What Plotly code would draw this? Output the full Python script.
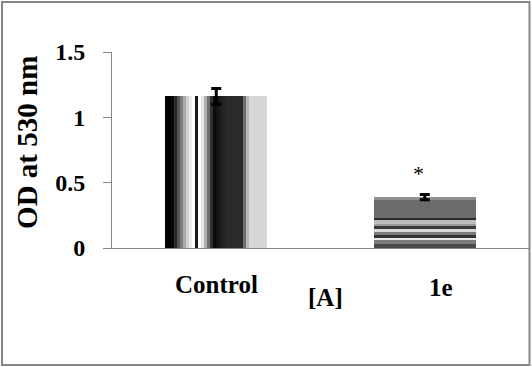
import plotly.graph_objects as go

# ---- data ----
categories = ["Control", "1e"]
values = [1.16, 0.39]
errors = [0.06, 0.02]
significance = ["", "*"]
y_tick_vals = [0, 0.5, 1, 1.5]
y_tick_text = ["0", "0.5", "1", "1.5"]
y_title = "OD at 530 nm"
x_title = "[A]"

# ---- style ----
FONT = "Liberation Serif, Times New Roman, Times, serif"
GRAY = "#868686"
BAR_W = 0.49

# vertical stripe texture of the first bar (left -> right)
stripe_colors = [
    "#000000", "#000000", "#080808",
    "#2a2a2a", "#555555", "#808080", "#aaaaaa", "#cfcfcf", "#ececec",
    "#ffffff", "#1a1a1a", "#ffffff",
    "#e6e6e6", "#b0b0b0", "#707070", "#303030",
    "#0c0c0c", "#141414", "#1c1c1c", "#242424", "#2a2a2a",
    "#2a2a2a", "#2a2a2a", "#2a2a2a", "#2a2a2a", "#2a2a2a",
    "#707070", "#b8b8b8",
    "#d6d6d6", "#d6d6d6", "#d6d6d6", "#d6d6d6", "#d6d6d6", "#d6d6d6",
]
# horizontal band texture of the second bar (bottom -> top): (relative height, colour)
band_style = [
    (4, "#4a4a4a"), (5, "#7c7c7c"), (2, "#e8e8e8"), (2, "#333333"),
    (3, "#7a7a7a"), (4, "#d8d8d8"), (2, "#3a3a3a"), (3, "#9a9a9a"),
    (4, "#bdbdbd"), (2, "#2a2a2a"), (18, "#6b6b6b"), (3, "#909090"),
]

fig = go.Figure()

# bar 1: vertical stripes
n = len(stripe_colors)
sw = BAR_W / n
fig.add_trace(go.Bar(
    x=[categories[0]] * n,
    y=[values[0]] * n,
    offset=[-BAR_W / 2 + i * sw for i in range(n)],
    width=[sw * (1.4 if i < n - 1 else 1.0) for i in range(n)],
    marker=dict(color=stripe_colors, line=dict(width=0)),
    hoverinfo="skip", showlegend=False,
))

# bar 2: horizontal bands
tot = sum(h for h, _ in band_style)
bases, heights, cols = [], [], []
cum = 0
for h, c in band_style:
    bases.append(values[1] * cum / tot)
    heights.append(values[1] * h / tot)
    cols.append(c)
    cum += h
fig.add_trace(go.Bar(
    x=[categories[1]] * len(band_style),
    y=heights,
    base=bases,
    width=BAR_W,
    marker=dict(color=cols, line=dict(width=0)),
    hoverinfo="skip", showlegend=False,
))

# error bars
fig.add_trace(go.Scatter(
    x=categories, y=values, mode="markers",
    marker=dict(color="rgba(0,0,0,0)", size=1),
    error_y=dict(type="data", array=errors, color="black", thickness=3, width=5),
    hoverinfo="skip", showlegend=False,
))

annotations = []
# category labels
label_shift = [(0, -36), (16, -39)]
for cat, (dx, dy) in zip(categories, label_shift):
    annotations.append(dict(
        x=cat, y=0, xref="x", yref="y", text="<b>%s</b>" % cat, showarrow=False,
        xanchor="center", yanchor="middle", xshift=dx, yshift=dy,
        font=dict(family=FONT, size=25, color="black"),
    ))
# significance marks
for cat, v, e, s in zip(categories, values, errors, significance):
    if s:
        annotations.append(dict(
            x=cat, y=v + e, xref="x", yref="y", text=s, showarrow=False,
            xanchor="center", yanchor="middle", xshift=-6, yshift=21,
            font=dict(family=FONT, size=22, color="black"),
        ))
# axis titles
annotations.append(dict(
    x=0.513, y=-0.25, xref="paper", yref="paper", text="<b>%s</b>" % x_title,
    showarrow=False, xanchor="center", yanchor="middle",
    font=dict(family=FONT, size=25, color="black"),
))
annotations.append(dict(
    x=-0.204, y=0.541, xref="paper", yref="paper", text="<b>%s</b>" % y_title,
    showarrow=False, xanchor="center", yanchor="middle", textangle=-90,
    font=dict(family=FONT, size=29, color="black"),
))

fig.update_layout(
    width=532, height=367,
    margin=dict(l=112, r=3, t=52, b=119, pad=0),
    paper_bgcolor="white", plot_bgcolor="white",
    barmode="overlay", bargap=0,
    showlegend=False,
    xaxis=dict(
        type="category", categoryorder="array", categoryarray=categories,
        range=[-0.5, 1.5], showline=True, linecolor=GRAY, linewidth=1,
        showticklabels=False, ticks="", showgrid=False, zeroline=False,
        fixedrange=True,
    ),
    yaxis=dict(
        range=[0, 1.5], tickvals=y_tick_vals,
        ticktext=["<b>%s</b>" % t for t in y_tick_text],
        ticks="outside", ticklen=8, tickcolor=GRAY, tickwidth=1,
        showline=True, linecolor=GRAY, linewidth=1,
        showgrid=False, zeroline=False, ticklabelstandoff=13,
        tickfont=dict(family=FONT, size=24, color="black"),
        fixedrange=True,
    ),
    annotations=annotations,
    shapes=[dict(
        type="rect", xref="paper", yref="paper",
        x0=(2 - 112) / 417, x1=(529.5 - 112) / 417,
        y0=(248 - 365) / 196, y1=(248 - 2) / 196,
        line=dict(color=GRAY, width=2), fillcolor="rgba(0,0,0,0)", layer="below",
    )],
)

fig.write_html(
    "out.html",
    config={"displayModeBar": False},
    post_script="document.body.style.margin='0';document.body.style.overflow='hidden';",
)
